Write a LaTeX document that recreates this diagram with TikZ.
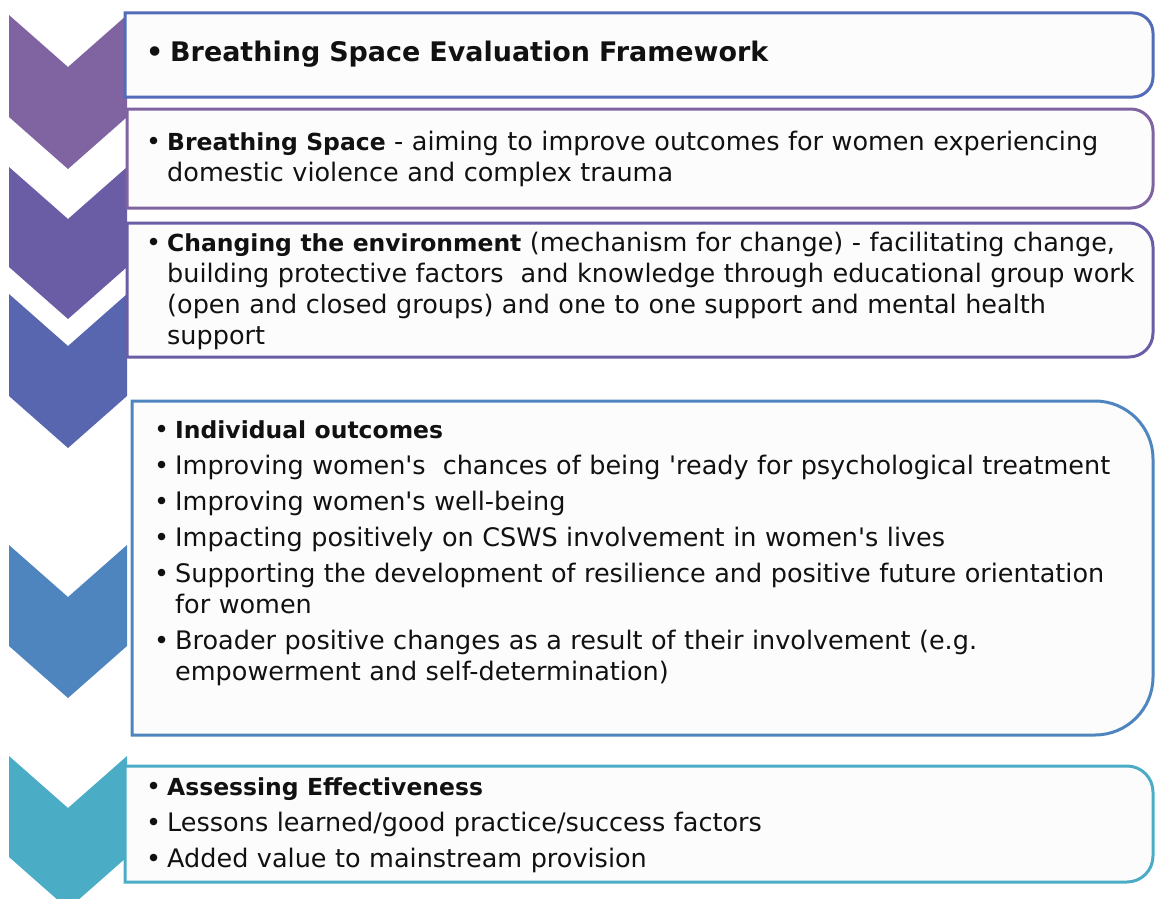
\documentclass[tikz,border=0pt]{standalone}
\usepackage{fontspec}
\setmainfont{DejaVu Sans}[BoldFeatures={Scale=0.92}]
\definecolor{plum}{HTML}{8064A2}
\definecolor{violet}{HTML}{6B5CA6}
\definecolor{indigo}{HTML}{5866B0}
\definecolor{royal}{HTML}{526CB9}
\definecolor{steel}{HTML}{4F85BE}
\definecolor{teal}{HTML}{4BACC6}
\definecolor{framefill}{HTML}{FCFCFC}
\definecolor{ink}{HTML}{111111}
\newlength\bulletgap
\setlength\bulletgap{21pt}
\setlength\parindent{0pt}
\newcommand\apos{\textquotesingle}
% one bulleted paragraph with hanging indent
\newcommand\bitem[1]{\hangindent=\bulletgap\hangafter=1\noindent\makebox[\bulletgap][l]{•}#1\par}
% panel outline: square on the left, rounded on the right
\newcommand\panel[5]{\draw[panel=#1] (#2,#4) -- (#2,#3) -- ({1153-#5},#3) arc[start angle=90,end angle=0,radius=#5] -- (1153,{#4+#5}) arc[start angle=0,end angle=-90,radius=#5] -- cycle;}
\tikzset{
  chevron/.style={fill=#1, draw=none},
  panel/.style={draw=#1, line width=3pt, fill=framefill},
  bodytext/.style={anchor=base west, inner sep=0pt, text width=1000pt, text=ink,
    font=\fontsize{25.5}{31}\selectfont\setlength\parskip{5pt}},
  headtext/.style={bodytext, font=\fontsize{29.3}{31}\selectfont\bfseries\setlength\bulletgap{24pt}}
}
\begin{document}
\begin{tikzpicture}[x=1pt,y=1pt]
  \useasboundingbox (0,0) rectangle (1156,-899);
  % chevrons
  \fill[chevron=plum] (9,-15) -- (68,-67) -- (127,-15) -- (127,-117) -- (68,-169) -- (9,-117) -- cycle;
  \fill[chevron=violet] (9,-167) -- (68,-219) -- (127,-167) -- (127,-267) -- (68,-319) -- (9,-267) -- cycle;
  \fill[chevron=indigo] (9,-294) -- (68,-346) -- (127,-294) -- (127,-396) -- (68,-448) -- (9,-396) -- cycle;
  \fill[chevron=steel] (9,-545) -- (68,-597) -- (127,-545) -- (127,-646) -- (68,-698) -- (9,-646) -- cycle;
  \fill[chevron=teal] (9,-756) -- (68,-808) -- (127,-756) -- (127,-857) -- (68,-909) -- (9,-857) -- cycle;
  % panels
  \panel{royal}{125}{-13}{-97}{20}
  \panel{plum}{127}{-109}{-208}{22}
  \panel{violet}{127}{-223}{-357}{24}
  \panel{steel}{132}{-401}{-735}{58}
  \panel{teal}{125}{-766}{-882}{26}
  % texts
  \node[headtext] (framework) at (146,-62) {\bitem{Breathing Space Evaluation Framework}};
  \node[bodytext] (aim) at (146,-150) {\bitem{\textbf{Breathing Space} - aiming to improve outcomes for women experiencing\newline domestic violence and complex trauma}};
  \node[bodytext] (mechanism) at (146,-251) {\bitem{\textbf{Changing the environment} (mechanism for change) - facilitating change,\newline building protective factors\ \ and knowledge through educational group work\newline (open and closed groups) and one to one support and mental health\newline support}};
  \node[bodytext] (outcomes) at (154,-438) {%
    \bitem{\textbf{Individual outcomes}}%
    \bitem{Improving women\apos s\ \ chances of being \apos ready for psychological treatment}%
    \bitem{Improving women\apos s well-being}%
    \bitem{Impacting positively on CSWS involvement in women\apos s lives}%
    \bitem{Supporting the development of resilience and positive future orientation\newline for women}%
    \bitem{Broader positive changes as a result of their involvement (e.g.\newline empowerment and self-determination)}};
  \node[bodytext] (effect) at (146,-795) {%
    \bitem{\textbf{Assessing Effectiveness}}%
    \bitem{Lessons learned/good practice/success factors}%
    \bitem{Added value to mainstream provision}};
\end{tikzpicture}
\end{document}
